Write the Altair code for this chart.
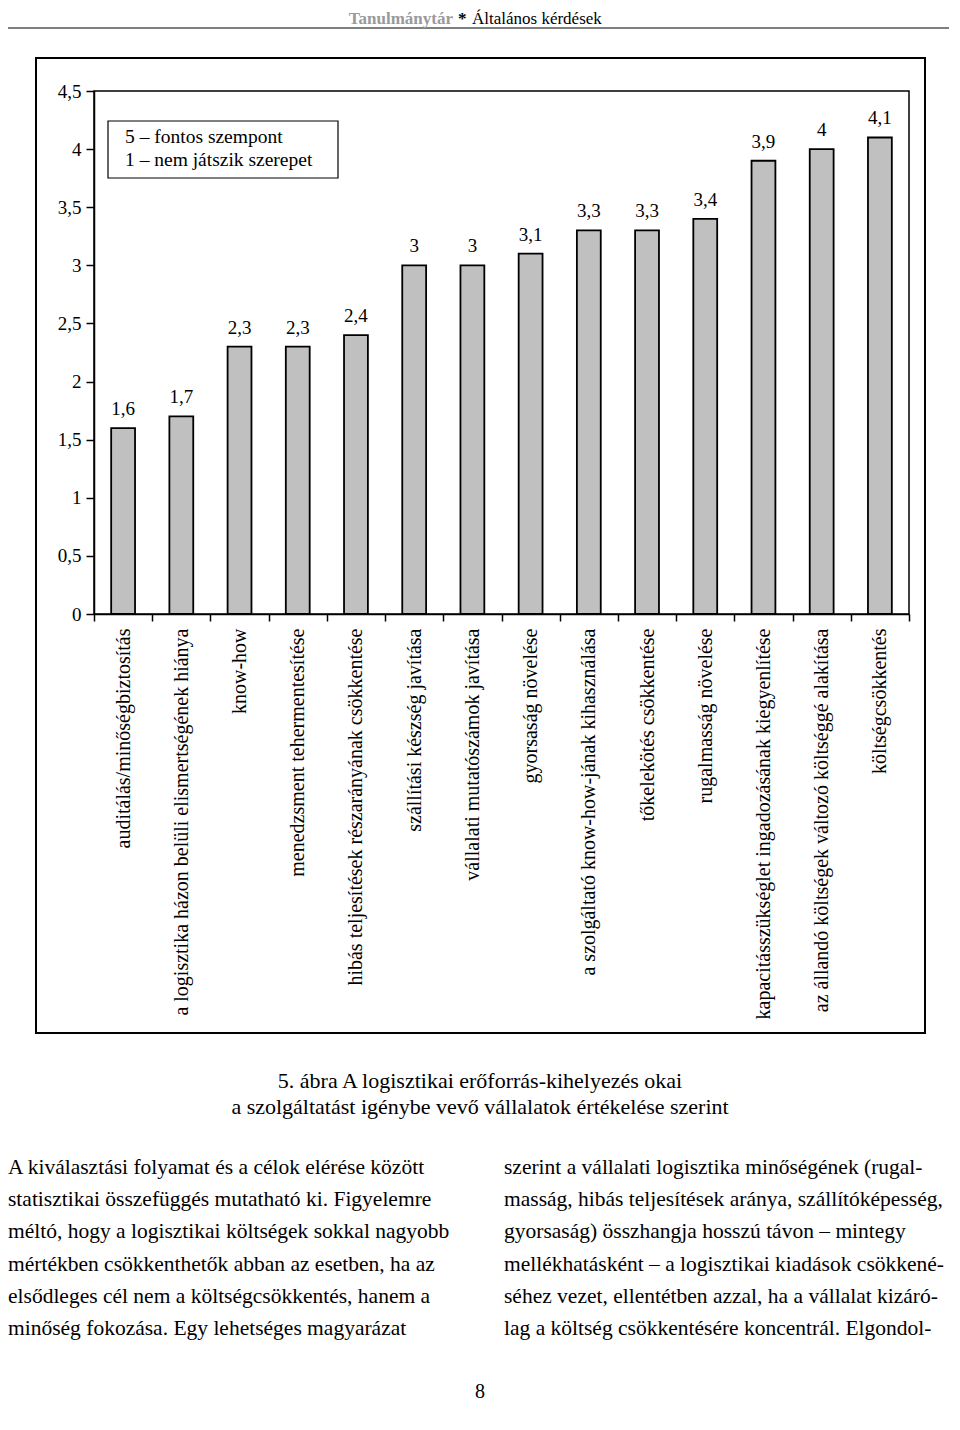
import altair as alt
import pandas as pd

# ---------------- data ----------------
categories = [
    "auditálás/minőségbiztosítás",
    "a logisztika házon belüli elismertségének hiánya",
    "know-how",
    "menedzsment tehermentesítése",
    "hibás teljesítések részarányának csökkentése",
    "szállítási készség javítása",
    "vállalati mutatószámok javítása",
    "gyorsaság növelése",
    "a szolgáltató know-how-jának kihasználása",
    "tőkelekötés csökkentése",
    "rugalmasság növelése",
    "kapacitásszükséglet ingadozásának kiegyenlítése",
    "az állandó költségek változó költséggé alakítása",
    "költségcsökkentés",
]
values = [1.6, 1.7, 2.3, 2.3, 2.4, 3.0, 3.0, 3.1, 3.3, 3.3, 3.4, 3.9, 4.0, 4.1]
value_labels = ["1,6", "1,7", "2,3", "2,3", "2,4", "3", "3", "3,1", "3,3", "3,3", "3,4", "3,9", "4", "4,1"]
y_ticks = [0, 0.5, 1, 1.5, 2, 2.5, 3, 3.5, 4, 4.5]

legend_lines = ["5 – fontos szempont", "1 – nem játszik szerepet"]
header_a = "Tanulmánytár"
header_b = "*"
header_c = "Általános kérdések"
caption_lines = [
    "5. ábra A logisztikai erőforrás-kihelyezés okai",
    "a szolgáltatást igénybe vevő vállalatok értékelése szerint",
]
left_col = [
    "A kiválasztási folyamat és a célok elérése között",
    "statisztikai összefüggés mutatható ki. Figyelemre",
    "méltó, hogy a logisztikai költségek sokkal nagyobb",
    "mértékben csökkenthetők abban az esetben, ha az",
    "elsődleges cél nem a költségcsökkentés, hanem a",
    "minőség fokozása. Egy lehetséges magyarázat",
]
right_col = [
    "szerint a vállalati logisztika minőségének (rugal-",
    "masság, hibás teljesítések aránya, szállítóképesség,",
    "gyorsaság) összhangja hosszú távon – mintegy",
    "mellékhatásként – a logisztikai kiadások csökkené-",
    "séhez vezet, ellentétben azzal, ha a vállalat kizáró-",
    "lag a költség csökkentésére koncentrál. Elgondol-",
]
page_number = "8"

df = pd.DataFrame({"kategoria": categories, "ertek": values, "felirat": value_labels})

FONT = "Liberation Serif"
W, H = 815, 523

x_enc = alt.X(
    "kategoria:N",
    sort=categories,
    title=None,
    scale=alt.Scale(paddingInner=0, paddingOuter=0),
    axis=alt.Axis(
        labelAngle=-90,
        labelFont=FONT,
        labelFontSize=20,
        labelColor="black",
        labelLimit=0,
        labelPadding=7,
        tickBand="extent",
        tickSize=7,
        tickColor="black",
        tickWidth=1.5,
        domainColor="black",
        domainWidth=1.5,
    ),
)
y_enc = alt.Y(
    "ertek:Q",
    title=None,
    scale=alt.Scale(domain=[0, 4.5], nice=False),
    axis=alt.Axis(
        values=y_ticks,
        labelExpr="replace(toString(datum.value), '.', ',')",
        labelFont=FONT,
        labelFontSize=19,
        labelColor="black",
        labelPadding=5,
        grid=False,
        tickSize=8,
        tickColor="black",
        tickWidth=1.5,
        domainColor="black",
        domainWidth=1.5,
    ),
)

bars = alt.Chart(df).mark_bar(
    width={"band": 0.41}, color="#c0c0c0", stroke="black", strokeWidth=1.8
).encode(x=x_enc, y=y_enc)

labels = alt.Chart(df).mark_text(
    baseline="alphabetic", dy=-13, fontSize=19, font=FONT, color="black"
).encode(x=alt.X("kategoria:N", sort=categories), y="ertek:Q", text="felirat:N")

one = alt.Data(values=[{"k": 0}])

legend_box = alt.Chart(one).mark_rect(
    fill="white", stroke="black", strokeWidth=1.2
).encode(x=alt.value(14), x2=alt.value(244), y=alt.value(30), y2=alt.value(87))

legend_text = alt.Chart(one).mark_text(
    align="left", baseline="alphabetic", font=FONT, fontSize=19.5, lineHeight=23, color="black"
).encode(x=alt.value(31), y=alt.value(52), text=alt.value(legend_lines))

outer_box = alt.Chart(one).mark_rect(
    fillOpacity=0, stroke="black", strokeWidth=2
).encode(x=alt.value(-58), x2=alt.value(831), y=alt.value(-33), y2=alt.value(942))

header_rule = alt.Chart(one).mark_rule(color="#555555", strokeWidth=1.5).encode(
    x=alt.value(-91), x2=alt.value(864), y=alt.value(-63)
)
head_a = alt.Chart(one).mark_text(
    align="right", baseline="alphabetic", font=FONT, fontSize=17, fontWeight="bold", color="#9a9a9a"
).encode(x=alt.value(359), y=alt.value(-67), text=alt.value(header_a))
head_b = alt.Chart(one).mark_text(
    align="left", baseline="alphabetic", font=FONT, fontSize=17, fontWeight="bold", color="black"
).encode(x=alt.value(364), y=alt.value(-67), text=alt.value(header_b))
head_c = alt.Chart(one).mark_text(
    align="left", baseline="alphabetic", font=FONT, fontSize=17, color="black"
).encode(x=alt.value(378), y=alt.value(-67), text=alt.value(header_c))

caption = alt.Chart(one).mark_text(
    align="center", baseline="alphabetic", font=FONT, fontSize=22, lineHeight=26, color="black"
).encode(x=alt.value(386), y=alt.value(997), text=alt.value(caption_lines))

left_text = alt.Chart(one).mark_text(
    align="left", baseline="alphabetic", font=FONT, fontSize=21.5, lineHeight=32.2, color="black"
).encode(x=alt.value(-86), y=alt.value(1083), text=alt.value(left_col))

right_text = alt.Chart(one).mark_text(
    align="left", baseline="alphabetic", font=FONT, fontSize=21.5, lineHeight=32.2, color="black"
).encode(x=alt.value(410), y=alt.value(1083), text=alt.value(right_col))

page_no = alt.Chart(one).mark_text(
    align="center", baseline="alphabetic", font=FONT, fontSize=20, color="black"
).encode(x=alt.value(386), y=alt.value(1307), text=alt.value(page_number))

chart = (
    alt.layer(
        outer_box, bars, labels, legend_box, legend_text,
        header_rule, head_a, head_b, head_c, caption, left_text, right_text, page_no,
    )
    .properties(
        width=W,
        height=H,
        autosize=alt.AutoSizeParams(type="none"),
        padding={"left": 86, "top": 83, "right": 40, "bottom": 800},
        background="white",
    )
    .configure_view(stroke="black", strokeWidth=1.5)
)

chart.save("out.html", embed_options={"renderer": "svg", "actions": False})
